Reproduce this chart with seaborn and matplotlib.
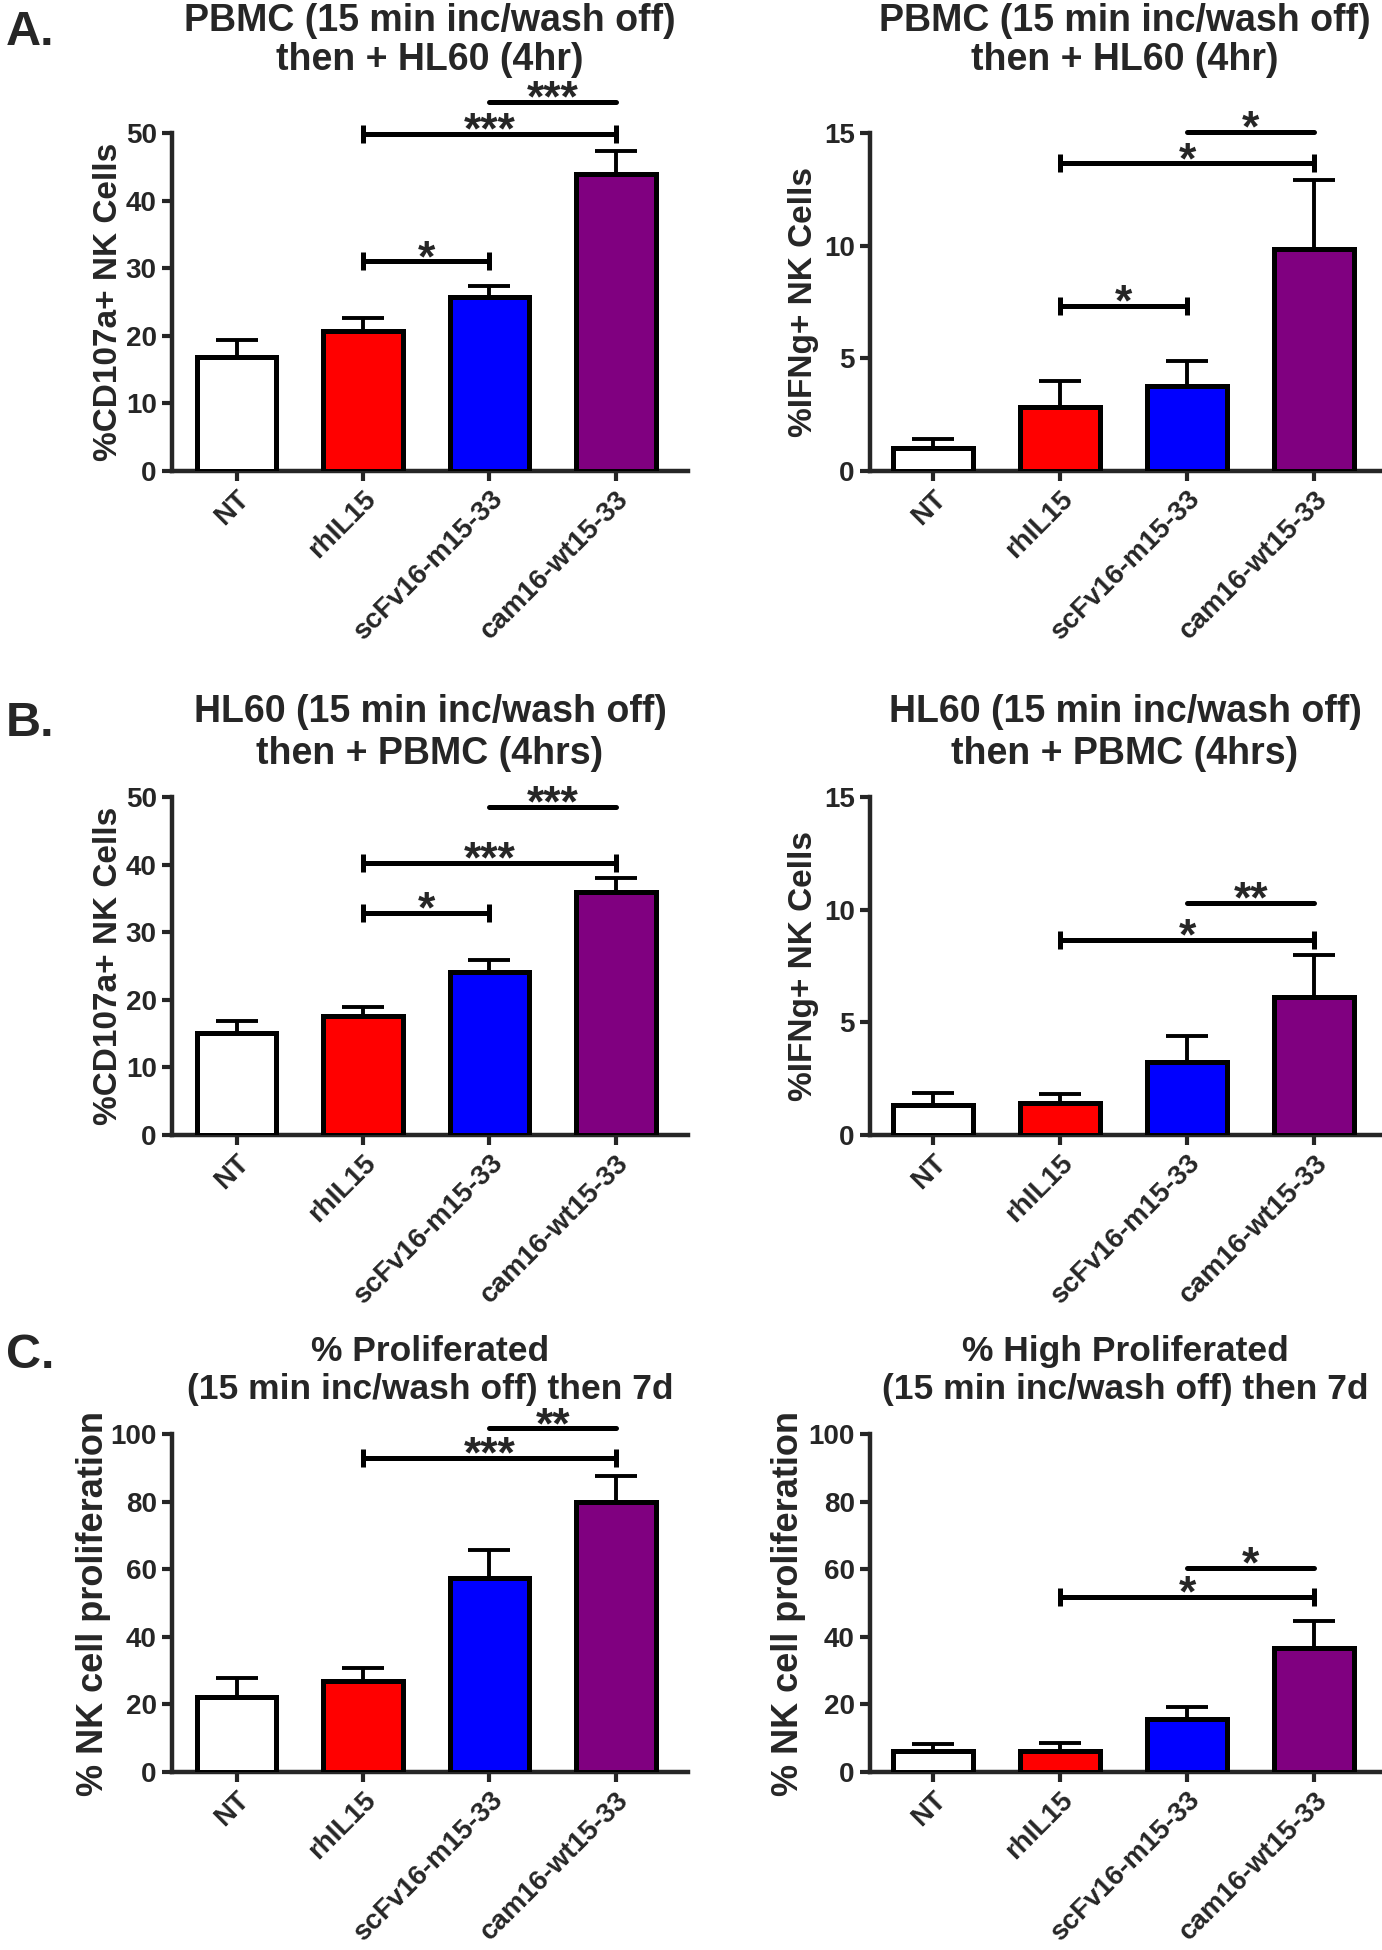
import numpy as np
import matplotlib
matplotlib.use('Agg')
import matplotlib.pyplot as plt
import seaborn as sns

categories = ['NT', 'rhIL15', 'scFv16-m15-33', 'cam16-wt15-33']
bar_colors = ['#FFFFFF', '#FF0000', '#0000FF', '#800080']

# A. PBMC pre-incubated, then + HL60
cd107a_pbmc_mean = [16.8, 20.7, 25.7, 44.0]
cd107a_pbmc_sem = [2.6, 1.9, 1.7, 3.4]
ifng_pbmc_mean = [1.03, 2.86, 3.75, 9.85]
ifng_pbmc_sem = [0.37, 1.12, 1.15, 3.05]

# B. HL60 pre-incubated, then + PBMC
cd107a_hl60_mean = [15.1, 17.65, 24.1, 36.0]
cd107a_hl60_sem = [1.8, 1.25, 1.8, 2.0]
ifng_hl60_mean = [1.33, 1.44, 3.22, 6.13]
ifng_hl60_sem = [0.55, 0.4, 1.18, 1.84]

# C. proliferation after 7d
prolif_mean = [22.3, 27.0, 57.3, 79.8]
prolif_sem = [5.6, 3.8, 8.3, 7.7]
high_prolif_mean = [6.1, 6.1, 15.6, 36.8]
high_prolif_sem = [2.1, 2.5, 3.7, 8.0]

# significance brackets: (from, to, height, stars, end ticks)
cd107a_pbmc_sig = [(1, 2, 31.0, '*', True), (1, 3, 49.9, '***', True), (2, 3, 54.6, '***', False)]
ifng_pbmc_sig = [(1, 2, 7.34, '*', True), (1, 3, 13.65, '*', True), (2, 3, 15.04, '*', False)]
cd107a_hl60_sig = [(1, 2, 32.9, '*', True), (1, 3, 40.3, '***', True), (2, 3, 48.5, '***', False)]
ifng_hl60_sig = [(1, 3, 8.65, '*', True), (2, 3, 10.29, '**', False)]
prolif_sig = [(1, 3, 92.9, '***', True), (2, 3, 101.7, '**', False)]
high_prolif_sig = [(1, 3, 51.8, '*', True), (2, 3, 60.4, '*', False)]

title_pbmc = 'PBMC (15 min inc/wash off)\nthen + HL60 (4hr)'
title_hl60 = 'HL60 (15 min inc/wash off)\nthen + PBMC (4hrs)'
title_prolif = '% Proliferated\n(15 min inc/wash off) then 7d'
title_high = '% High Proliferated\n(15 min inc/wash off) then 7d'

sns.set_style('ticks')
plt.rcParams['font.family'] = ['Liberation Sans', 'DejaVu Sans']
plt.rcParams['font.weight'] = 'bold'
plt.rcParams['axes.linewidth'] = 3.2

fig = plt.figure(figsize=(13.82, 19.5), dpi=100)

W, H = 1382, 1950
left_x = 172 / W
right_x = 870 / W
left_w = 516 / W
right_w = 510 / W
ax_h = 338 / H
rows = [1 - 471 / H, 1 - 1135 / H, 1 - 1772 / H]


def draw_panel(ax, means, sems, ymax, ystep, ylabel, title, sig, xlim, title_pad,
               label_x, label_size, title_size, title_spacing):
    x = np.arange(len(categories))
    sns.barplot(x=categories, y=means, hue=categories, palette=bar_colors,
                legend=False, width=0.63, edgecolor='black', linewidth=3.6,
                saturation=1, errorbar=None, ax=ax, zorder=3)
    ax.errorbar(x, means, yerr=[np.zeros(len(means)), sems], fmt='none',
                ecolor='black', elinewidth=2.8, capsize=15, capthick=2.8, zorder=2)
    ax.set_xlim(*xlim)
    ax.set_ylim(0, ymax)
    ax.set_yticks(np.arange(0, ymax + 0.01, ystep))
    ax.set_xticks(x)
    ax.set_xticklabels(categories, rotation=45, ha='right', rotation_mode='anchor')
    ax.tick_params(axis='both', width=3, length=7, labelsize=20, pad=4)
    sns.despine(ax=ax)
    ax.set_ylabel(ylabel, fontsize=label_size, fontweight='bold')
    ax.yaxis.set_label_coords(label_x, 0.5)
    ax.set_xlabel('')
    ax.set_title(title, fontsize=title_size, fontweight='bold', pad=title_pad,
                 linespacing=title_spacing)
    for i, j, y, stars, ends in sig:
        ax.plot([i, j], [y, y], color='black', lw=3.6, solid_capstyle='round',
                clip_on=False, zorder=4)
        if ends:
            ax.plot([i, j], [y, y], ls='none', marker='|', ms=13, mew=3.6,
                    color='black', clip_on=False, zorder=4)
        ax.annotate(stars, xy=((i + j) / 2, y), xytext=(0, -7), textcoords='offset points',
                    ha='center', va='baseline', fontsize=32, fontweight='bold',
                    annotation_clip=False)


# (x0, width, bottom, means, sems, ymax, ystep, ylabel, title, brackets, title pad,
#  ylabel x, ylabel size, title size, title line spacing)
panels = [
    (left_x, left_w, rows[0], cd107a_pbmc_mean, cd107a_pbmc_sem, 50, 10, '%CD107a+ NK Cells',
     title_pbmc, cd107a_pbmc_sig, 45, -0.093, 24, 27, 1.12),
    (right_x, right_w, rows[0], ifng_pbmc_mean, ifng_pbmc_sem, 15, 5, '%IFNg+ NK Cells',
     title_pbmc, ifng_pbmc_sig, 45, -0.1, 24, 27, 1.12),
    (left_x, left_w, rows[1], cd107a_hl60_mean, cd107a_hl60_sem, 50, 10, '%CD107a+ NK Cells',
     title_hl60, cd107a_hl60_sig, 24, -0.093, 24, 27, 1.2),
    (right_x, right_w, rows[1], ifng_hl60_mean, ifng_hl60_sem, 15, 5, '%IFNg+ NK Cells',
     title_hl60, ifng_hl60_sig, 24, -0.1, 24, 27, 1.2),
    (left_x, left_w, rows[2], prolif_mean, prolif_sem, 100, 20, '% NK cell proliferation',
     title_prolif, prolif_sig, 25, -0.118, 26, 25.5, 1.2),
    (right_x, right_w, rows[2], high_prolif_mean, high_prolif_sem, 100, 20, '% NK cell proliferation',
     title_high, high_prolif_sig, 25, -0.125, 26, 25.5, 1.2),
]

for k, (x0, w, b, means, sems, ymax, ystep, ylabel, title, sig, pad, lx, lsize, tsize, tsp) in enumerate(panels):
    ax = fig.add_axes([x0, b, w, ax_h])
    xlim = (-0.51, 3.57) if k % 2 == 0 else (-0.5, 3.52)
    draw_panel(ax, means, sems, ymax, ystep, ylabel, title, sig, xlim, pad, lx, lsize, tsize, tsp)

for letter, y in [('A.', 45), ('B.', 736), ('C.', 1368)]:
    fig.text(6 / W, 1 - y / H, letter, fontsize=35, fontweight='bold', va='baseline', ha='left')

fig.savefig('out.png', dpi=100)
